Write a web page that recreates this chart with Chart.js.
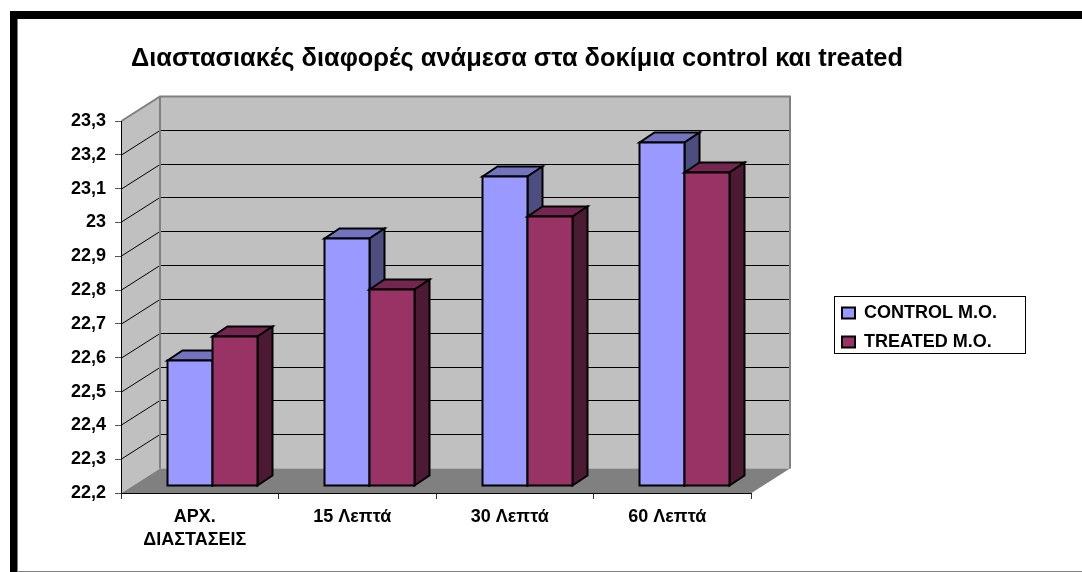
<!DOCTYPE html>
<html>
<head>
<meta charset="utf-8">
<title>Διαστασιακές διαφορές</title>
<script src="https://cdn.jsdelivr.net/npm/chart.js@4/dist/chart.umd.min.js"></script>
<style>
    html, body { margin: 0; padding: 0; background: #fff; }
    canvas { display: block; }
</style>
</head>
<body>
<canvas id="dimChart" width="1082" height="572"></canvas>
<script>
// values
const categories = [['ΑΡΧ.', 'ΔΙΑΣΤΑΣΕΙΣ'], '15 Λεπτά', '30 Λεπτά', '60 Λεπτά'];
const controlValues = [22.57, 22.93, 23.115, 23.215];
const treatedValues = [22.64, 22.78, 22.995, 23.125];
const seriesNames = ['CONTROL M.O.', 'TREATED M.O.'];
const chartTitle = 'Διαστασιακές διαφορές ανάμεσα στα δοκίμια control και treated';
const yMin = 22.2, yMax = 23.3, yStep = 0.1;

// fake 3D look of the old spreadsheet chart
const wallShift = { x: 38.5, y: -24.5 };
const barShift = { x: 12, y: -8 };
const barDepth = { x: 15, y: -10 };
const frontColors = ['#9999FF', '#993366'];
const topColors = ['#7373BF', '#732650'];
const sideColors = ['#4D4D80', '#4D1A33'];

function poly(ctx, pts, fill, stroke, lw) {
    ctx.beginPath();
    pts.forEach((p, i) => i ? ctx.lineTo(p[0], p[1]) : ctx.moveTo(p[0], p[1]));
    ctx.closePath();
    if (fill) { ctx.fillStyle = fill; ctx.fill(); }
    if (stroke) { ctx.strokeStyle = stroke; ctx.lineWidth = lw; ctx.stroke(); }
}

const scene3d = {
    id: 'scene3d',
    beforeDraw(chart) {
        const ctx = chart.ctx;
        // page frame
        ctx.save();
        ctx.fillStyle = '#000';
        ctx.fillRect(10, 11, 1072, 8);
        ctx.fillRect(10, 11, 7.5, 561);
        ctx.fillStyle = '#808080';
        ctx.fillRect(17, 571, 1065, 1);
        ctx.restore();

        // title and legend sit where the original put them
        const t = chart.titleBlock;
        t.left = 131; t.right = 903;
        const l = chart.legend;
        l.left = 831; l.right = 1026; l.width = l.right - l.left;
        l.top = 293; l.bottom = 380; l.height = l.bottom - l.top;
    },
    beforeDatasetsDraw(chart) {
        const ctx = chart.ctx;
        const a = chart.chartArea;
        const y = chart.scales.y;
        const sx = wallShift.x, sy = wallShift.y;
        const x0 = Math.round(a.left) + 0.5, x1 = Math.round(a.right) + 0.5;
        ctx.save();
        // side wall, back wall, floor
        poly(ctx, [[x0, a.top], [x0 + sx, a.top + sy], [x0 + sx, a.bottom + sy], [x0, a.bottom]], '#C0C0C0');
        poly(ctx, [[x0 + sx, a.top + sy], [x1 + sx, a.top + sy], [x1 + sx, a.bottom + sy], [x0 + sx, a.bottom + sy]], '#C0C0C0');
        poly(ctx, [[x0, a.bottom], [x0 + sx, a.bottom + sy], [x1 + sx, a.bottom + sy], [x1, a.bottom]], '#808080');
        // grid lines round the walls
        ctx.strokeStyle = '#000';
        ctx.lineWidth = 1;
        y.ticks.forEach(tk => {
            if (tk.value <= yMin + 1e-6 || tk.value >= yMax - 1e-6) return;
            const py = Math.round(y.getPixelForValue(tk.value));
            ctx.beginPath();
            ctx.moveTo(x0, py);
            ctx.lineTo(x0 + sx, py + sy);
            ctx.lineTo(x1 + sx, py + sy);
            ctx.stroke();
        });
        // wall edges
        ctx.strokeStyle = '#808080';
        ctx.lineWidth = 2;
        ctx.beginPath();
        ctx.moveTo(x0, a.top);
        ctx.lineTo(x0 + sx, a.top + sy);
        ctx.lineTo(x1 + sx, a.top + sy);
        ctx.lineTo(x1 + sx, a.bottom + sy);
        ctx.moveTo(x0 + sx, a.top + sy);
        ctx.lineTo(x0 + sx, a.bottom + sy);
        ctx.stroke();
        // front axis lines
        ctx.strokeStyle = '#000';
        ctx.lineWidth = 1;
        ctx.beginPath();
        ctx.moveTo(x0, a.top);
        ctx.lineTo(x0, a.bottom + 0.5);
        ctx.lineTo(x1, a.bottom + 0.5);
        ctx.stroke();
        ctx.restore();
    },
    // the bars need left-to-right painter order, so they are painted here
    beforeDatasetDraw() {
        return false;
    },
    afterDatasetsDraw(chart) {
        const ctx = chart.ctx;
        ctx.save();
        ctx.lineJoin = 'miter';
        for (let c = 0; c < categories.length; c++) {
            for (let d = 0; d < chart.data.datasets.length; d++) {
                const el = chart.getDatasetMeta(d).data[c];
                const l = Math.round(el.x - el.width / 2 + barShift.x) + 0.5;
                const r = Math.round(el.x + el.width / 2 + barShift.x) + 0.5;
                const t = Math.round(el.y + barShift.y) + 0.5;
                const b = Math.round(el.base + barShift.y) + 0.5;
                const dx = barDepth.x, dy = barDepth.y;
                poly(ctx, [[l, t], [l + dx, t + dy], [r + dx, t + dy], [r, t]], topColors[d], '#000', 2);
                poly(ctx, [[r, t], [r + dx, t + dy], [r + dx, b + dy], [r, b]], sideColors[d], '#000', 2);
                poly(ctx, [[l, t], [r, t], [r, b], [l, b]], frontColors[d], '#000', 2);
            }
        }
        ctx.restore();
    },
    afterDraw(chart) {
        // legend box, the library draws none
        const ctx = chart.ctx;
        ctx.save();
        ctx.strokeStyle = '#000';
        ctx.lineWidth = 1;
        ctx.strokeRect(834.5, 296.5, 191, 57);
        ctx.restore();
    }
};

const labelFont = { family: '"Liberation Sans", Arial, sans-serif', size: 18, weight: 'bold' };

new Chart(document.getElementById('dimChart').getContext('2d'), {
    type: 'bar',
    data: {
        labels: categories,
        datasets: [
            { label: seriesNames[0], data: controlValues, base: yMin, backgroundColor: frontColors[0], borderColor: '#000', borderWidth: 2 },
            { label: seriesNames[1], data: treatedValues, base: yMin, backgroundColor: frontColors[1], borderColor: '#000', borderWidth: 2 }
        ]
    },
    plugins: [scene3d],
    options: {
        responsive: false,
        animation: false,
        layout: { padding: { left: 0, right: 331, top: 0, bottom: 0 } },
        datasets: { bar: { barPercentage: 1, categoryPercentage: 0.571 } },
        plugins: {
            tooltip: { enabled: false },
            title: {
                display: true,
                text: chartTitle,
                color: '#000',
                align: 'center',
                font: { family: labelFont.family, size: 25.5, weight: 'bold', lineHeight: 1.2 },
                padding: { top: 44, bottom: 46.4 }
            },
            legend: {
                position: 'chartArea',
                align: 'start',
                labels: {
                    color: '#000',
                    font: labelFont,
                    boxWidth: 13,
                    boxHeight: 11,
                    padding: 11
                }
            }
        },
        scales: {
            x: {
                afterFit: s => { s.height = 79; },
                grid: { drawOnChartArea: false, drawTicks: true, tickLength: 6, color: '#333' },
                border: { display: false },
                ticks: {
                    color: '#000',
                    font: { ...labelFont, lineHeight: 1.3 },
                    maxRotation: 0,
                    autoSkip: false,
                    labelOffset: -5,
                    padding: 6
                }
            },
            y: {
                min: yMin,
                max: yMax,
                afterFit: s => { s.width = 121; },
                grid: { drawOnChartArea: false, drawTicks: true, tickLength: 6, color: '#555' },
                border: { display: false },
                ticks: {
                    stepSize: yStep,
                    color: '#000',
                    font: labelFont,
                    padding: 9,
                    callback: v => String(+v.toFixed(1)).replace('.', ',')
                }
            }
        }
    }
});
</script>
</body>
</html>
